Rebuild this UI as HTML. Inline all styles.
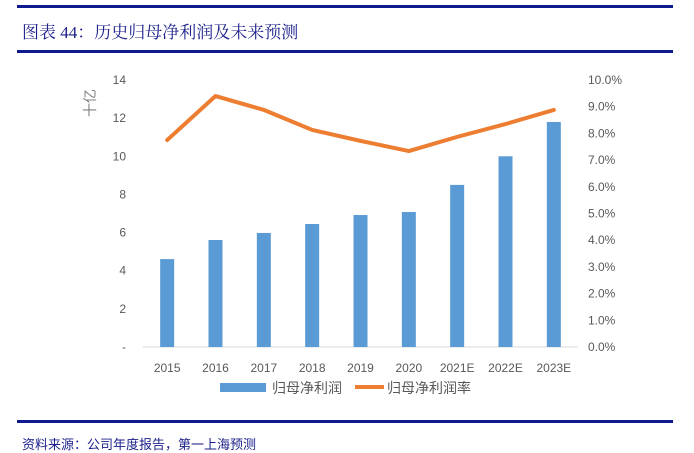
<!DOCTYPE html>
<html><head><meta charset="utf-8"><style>
body{margin:0;background:#fff;width:694px;height:444px;overflow:hidden;position:relative;font-family:"Liberation Sans","Noto Sans CJK SC",sans-serif}
.rule{position:absolute;left:17px;width:656px;height:3px;background:#0f1a8c}
</style></head><body>
<div class="rule" style="top:5px"></div>
<div style="position:absolute;left:22px;top:18px;font-size:17px;color:#1b1f8a;font-family:'Liberation Serif','Noto Serif CJK SC',serif">图表 44：历史归母净利润及未来预测</div>
<div class="rule" style="top:50px"></div>
<svg id="c" width="694" height="444" style="position:absolute;left:0;top:0"></svg>
<div class="rule" style="top:420px"></div>
<div style="position:absolute;left:22px;top:434px;font-size:13px;color:#1b1f8a">资料来源：公司年度报告，第一上海预测</div>
<script>
const categories=["2015","2016","2017","2018","2019","2020","2021E","2022E","2023E"];
const profit=[4.61,5.61,5.98,6.45,6.92,7.08,8.5,10.0,11.8];
const margin=[7.75,9.4,8.88,8.13,7.72,7.34,7.87,8.35,8.88];
const leftTicks=[0,2,4,6,8,10,12,14];
const rightTicks=[0,1,2,3,4,5,6,7,8,9,10];
const NS="http://www.w3.org/2000/svg",svg=document.getElementById('c');
const x0=143,x1=578,yT=80,yB=347,step=(x1-x0)/categories.length;
const yL=v=>yB-(v/14)*(yB-yT),yR=v=>yB-(v/10)*(yB-yT),xc=i=>x0+step*(i+0.5);
function mk(t,a,txt){const e=document.createElementNS(NS,t);for(const k in a)e.setAttribute(k,a[k]);if(txt!=null)e.textContent=txt;svg.appendChild(e);return e;}
const ax=mk('line',{x1:x0,x2:x1,y1:yB,y2:yB,stroke:'#d9d9d9','stroke-width':1});


leftTicks.forEach(v=>{const t=mk('text',{x:126,y:yL(v)+4,'text-anchor':'end','font-size':12,fill:'#595959'},v===0?'-':v);

});
rightTicks.forEach(v=>{const t=mk('text',{x:588,y:yR(v)+4,'font-size':12,fill:'#595959'},v.toFixed(1)+'%');

});
const u=mk('text',{x:0,y:0,'font-size':14,fill:'#7f7f7f',transform:'translate(95,103) rotate(-90)','text-anchor':'middle'},'十亿');


categories.forEach((c,i)=>{
const b=mk('rect',{x:xc(i)-7,y:yL(profit[i]),width:14,height:yB-yL(profit[i]),fill:'#5b9bd5'});


const t=mk('text',{x:xc(i),y:372,'text-anchor':'middle','font-size':12,fill:'#595959'},c);

});
const ln=mk('polyline',{points:margin.map((v,i)=>xc(i)+','+yR(v)).join(' '),fill:'none',stroke:'#ed7d31','stroke-width':4,'stroke-linejoin':'round','stroke-linecap':'round'});


const l1=mk('rect',{x:220,y:383,width:46,height:9,fill:'#5b9bd5'});


const l2=mk('text',{x:272,y:393,'font-size':14,fill:'#595959'},'归母净利润');


const l3=mk('line',{x1:355,x2:384,y1:387,y2:387,stroke:'#ed7d31','stroke-width':4});


const l4=mk('text',{x:387,y:393,'font-size':14,fill:'#595959'},'归母净利润率');


</script>
</body></html>
